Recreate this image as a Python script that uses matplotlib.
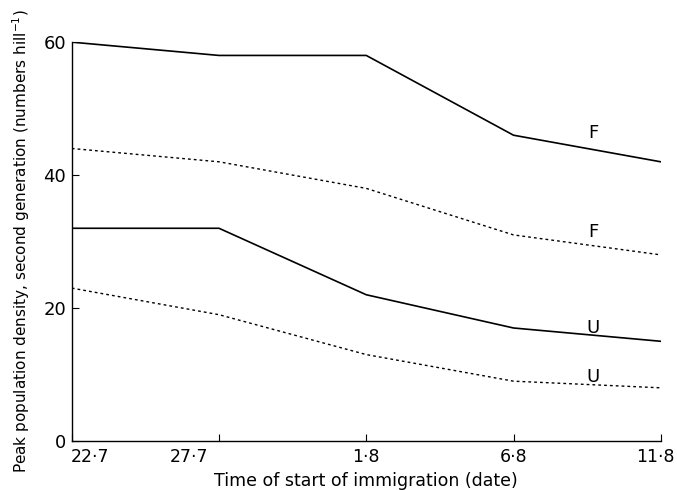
import matplotlib
matplotlib.use("Agg")
import matplotlib.pyplot as plt
import matplotlib.transforms as mtransforms

# start-of-immigration dates (evenly spaced, 5 days apart)
dates = ["22·7", "27·7", "1·8", "6·8", "11·8"]

# peak second-generation density, numbers per hill
f_solid = [60, 58, 58, 46, 42]
f_dotted = [44, 42, 38, 31, 28]
u_solid = [32, 32, 22, 17, 15]
u_dotted = [23, 19, 13, 9, 8]

# curve tags written near the right-hand end of each line
tags = ["F", "F", "U", "U"]
tag_y = [46.3, 31.4, 17.0, 9.6]

plt.rcParams.update({"font.family": "DejaVu Sans", "font.size": 12})
fig = plt.figure(figsize=(6.77, 4.90), dpi=100)
ax = fig.add_axes([0.106, 0.10, 0.870, 0.814])

x = list(range(len(dates)))
solid = dict(color="black", lw=1.2, ls="-")
dotted = dict(color="black", lw=1.0, ls=(0, (2, 2.2)))
ax.plot(x, f_solid, **solid)
ax.plot(x, f_dotted, **dotted)
ax.plot(x, u_solid, **solid)
ax.plot(x, u_dotted, **dotted)

for t, ty in zip(tags, tag_y):
    ax.text(3.54, ty, t, ha="center", va="center", fontsize=13)

ax.set_xlim(0, 4)
ax.set_ylim(0, 60)
ax.set_xticks(x)
ax.set_xticklabels(dates)
ax.set_yticks([0, 20, 40, 60])
ax.tick_params(direction="in", length=5, width=0.8, pad=5, labelsize=12.5)
ax.tick_params(axis="y", pad=4, labelsize=13)
for s in ("top", "right"):
    ax.spines[s].set_visible(False)
for s in ("left", "bottom"):
    ax.spines[s].set_linewidth(1.0)


def nudge(label, dx):
    label.set_transform(label.get_transform()
                        + mtransforms.ScaledTranslation(dx, 0, fig.dpi_scale_trans))


# date labels at both ends and at 27.7 sit off-centre from their ticks
labels = ax.get_xticklabels()
labels[0].set_horizontalalignment("left")
nudge(labels[0], -0.01)
nudge(labels[1], -0.30)
nudge(labels[4], -0.05)

ax.set_xlabel("Time of start of immigration (date)", fontsize=12.5, labelpad=4)
ax.set_ylabel(r"Peak population density, second generation (numbers hill$^{-1}$)",
              fontsize=11, labelpad=8)

fig.savefig("out.png", dpi=100)
